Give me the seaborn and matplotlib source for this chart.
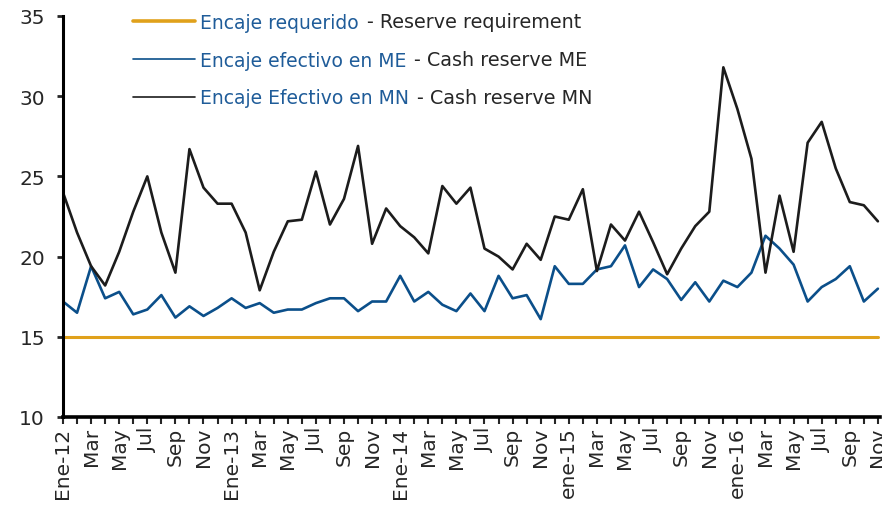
import matplotlib
matplotlib.use('Agg')
import matplotlib.pyplot as plt
import pandas as pd
import seaborn as sns
from matplotlib.lines import Line2D

# monthly data, Jan 2012 - Nov 2016
tick_labels = ['Ene-12', 'Mar', 'May', 'Jul', 'Sep', 'Nov',
               'Ene-13', 'Mar', 'May', 'Jul', 'Sep', 'Nov',
               'Ene-14', 'Mar', 'May', 'Jul', 'Sep', 'Nov',
               'ene-15', 'Mar', 'May', 'Jul', 'Sep', 'Nov',
               'ene-16', 'Mar', 'May', 'Jul', 'Sep', 'Nov']

encaje_mn = [24.0, 21.5, 19.4, 18.2, 20.3, 22.8, 25.0, 21.5, 19.0, 26.7, 24.3, 23.3,
             23.3, 21.5, 17.9, 20.3, 22.2, 22.3, 25.3, 22.0, 23.6, 26.9, 20.8, 23.0,
             21.9, 21.2, 20.2, 24.4, 23.3, 24.3, 20.5, 20.0, 19.2, 20.8, 19.8, 22.5,
             22.3, 24.2, 19.1, 22.0, 21.0, 22.8, 20.9, 18.9, 20.5, 21.9, 22.8, 31.8,
             29.2, 26.1, 19.0, 23.8, 20.3, 27.1, 28.4, 25.5, 23.4, 23.2, 22.2]

encaje_me = [17.2, 16.5, 19.4, 17.4, 17.8, 16.4, 16.7, 17.6, 16.2, 16.9, 16.3, 16.8,
             17.4, 16.8, 17.1, 16.5, 16.7, 16.7, 17.1, 17.4, 17.4, 16.6, 17.2, 17.2,
             18.8, 17.2, 17.8, 17.0, 16.6, 17.7, 16.6, 18.8, 17.4, 17.6, 16.1, 19.4,
             18.3, 18.3, 19.2, 19.4, 20.7, 18.1, 19.2, 18.6, 17.3, 18.4, 17.2, 18.5,
             18.1, 19.0, 21.3, 20.5, 19.5, 17.2, 18.1, 18.6, 19.4, 17.2, 18.0]

months = list(range(len(encaje_mn)))
encaje_req = [15.0] * len(months)

labels_es = ['Encaje requerido', 'Encaje efectivo en ME', 'Encaje Efectivo en MN']
labels_en = ['- Reserve requirement', '- Cash reserve ME', '- Cash reserve MN']

GOLD = '#E0A11B'
BLUE = '#0B4F8A'
BLACK = '#1C1C1C'
TEXT_BLUE = '#1F5C99'
TEXT_DARK = '#262626'

df = pd.DataFrame({'mes': months, 'req': encaje_req, 'me': encaje_me, 'mn': encaje_mn})

sns.set_theme(style='white')
plt.rcParams['font.family'] = ['DejaVu Sans']

fig = plt.figure(figsize=(8.82, 5.10), dpi=100)
ax = fig.add_axes([63 / 882, 1 - 418 / 510, 817 / 882, 401 / 510])

sns.lineplot(data=df, x='mes', y='req', ax=ax, color=GOLD, linewidth=2.2)
sns.lineplot(data=df, x='mes', y='me', ax=ax, color=BLUE, linewidth=1.9)
sns.lineplot(data=df, x='mes', y='mn', ax=ax, color=BLACK, linewidth=1.9)

ax.set_xlim(0, 58.15)
ax.set_ylim(10, 35)
ax.set_yticks([10, 15, 20, 25, 30, 35])
ax.set_xticks(months)
ax.set_xticklabels([tick_labels[i // 2] if i % 2 == 0 else '' for i in months],
                   rotation=90, fontsize=14.5, color=TEXT_DARK)
ax.tick_params(axis='y', labelsize=14.5, labelcolor=TEXT_DARK, length=4, width=2,
               direction='out', left=True, pad=9)
ax.tick_params(axis='x', length=5, width=1.5, direction='out', bottom=True, pad=2)
ax.set_xlabel('')
ax.set_ylabel('')

for side in ['top', 'right']:
    ax.spines[side].set_visible(False)
ax.spines['left'].set_linewidth(2.2)
ax.spines['bottom'].set_linewidth(2.6)
ax.spines['left'].set_color('black')
ax.spines['bottom'].set_color('black')

handles = [Line2D([], [], color=GOLD, linewidth=2.6),
           Line2D([], [], color=BLUE, linewidth=1.2),
           Line2D([], [], color=BLACK, linewidth=1.2)]
leg = ax.legend(handles, labels_es, loc='upper left',
                bbox_to_anchor=(133 / 882, 1 - 14 / 510), bbox_transform=fig.transFigure,
                frameon=False, fontsize=13.5, handlelength=3.3, handletextpad=0.28,
                labelspacing=1.0, borderpad=0, borderaxespad=0)

# second colour part of each legend entry, placed after the spanish text
fig.canvas.draw()
W, H = fig.canvas.get_width_height()
for txt, eng in zip(leg.get_texts(), labels_en):
    txt.set_color(TEXT_BLUE)
    bb = txt.get_window_extent()
    fig.text((bb.x1 + 8) / W, (bb.y0 + bb.y1) / 2 / H, eng, va='center', ha='left',
             fontsize=13.8, color=TEXT_DARK)

fig.savefig('out.png', dpi=100)
